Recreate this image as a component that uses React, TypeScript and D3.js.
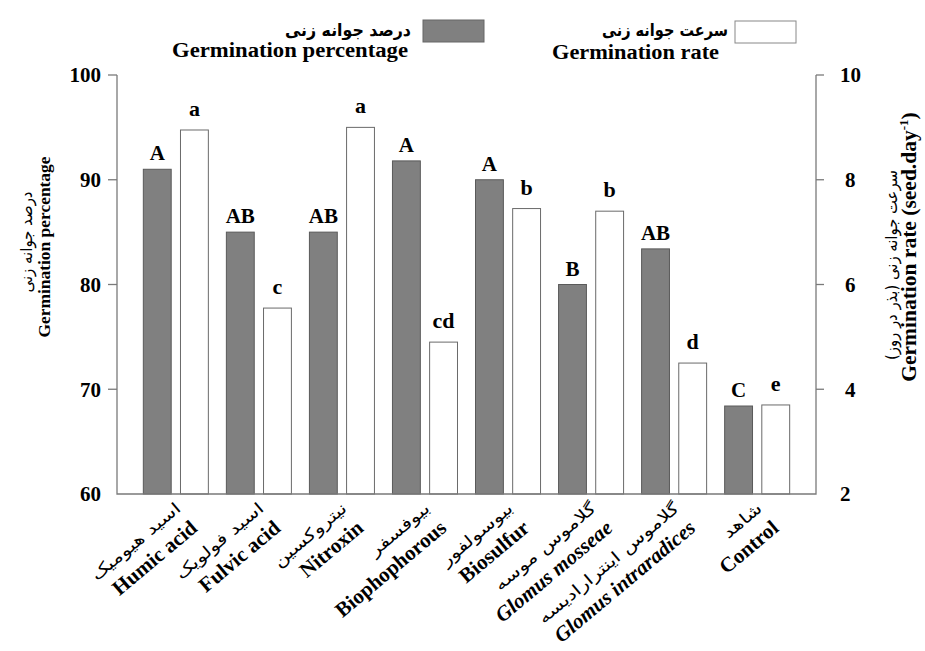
import * as React from 'react';
import { scaleLinear, scaleBand } from 'd3';

const categoriesFa = [
  'اسید هیومیک', 'اسید فولویک', 'نیتروکسین', 'بیوفسفر',
  'بیوسولفور', 'گلاموس موسه', 'گلاموس اینترارادیسه', 'شاهد',
];
const categoriesEn = [
  'Humic acid', 'Fulvic acid', 'Nitroxin', 'Biophophorous',
  'Biosulfur', 'Glomus mosseae', 'Glomus intraradices', 'Control',
];
const italicCats = ['Glomus mosseae', 'Glomus intraradices'];

const germPercent = [91, 85, 85, 91.8, 90, 80, 83.4, 68.4];
const germRate = [8.95, 5.55, 9.0, 4.9, 7.45, 7.4, 4.5, 3.7];
const percentLetters = ['A', 'AB', 'AB', 'A', 'A', 'B', 'AB', 'C'];
const rateLetters = ['a', 'c', 'a', 'cd', 'b', 'b', 'd', 'e'];

const percentTicks = [100, 90, 80, 70, 60];
const rateTicks = [10, 8, 6, 4, 2];

const W = 925, H = 651;
const left = 117, right = 816, top = 75, bottom = 494;
const SERIF = '"Liberation Serif", "Times New Roman", serif';
const FA = '"DejaVu Sans", sans-serif';
const AXIS = '#7a7a7a';
const GRAY = '#808080';

export default function App() {
  const x = scaleBand<number>()
    .domain(categoriesEn.map((_, i) => i))
    .range([left, right])
    .paddingInner(0.217)
    .paddingOuter(0.317);
  const sub = scaleBand<string>().domain(['pct', 'rate']).range([0, x.bandwidth()]).paddingInner(0.25);
  const yPct = scaleLinear().domain([60, 100]).range([bottom, top]);
  const yRate = scaleLinear().domain([2, 10]).range([bottom, top]);

  return (
    <svg width={W} height={H} style={{ position: 'absolute', left: 0, top: 0, background: '#fff' }}>
      {/* legend */}
      <rect x={423} y={20} width={61} height={22} fill={GRAY} stroke="#666" strokeWidth={1} />
      <text x={411} y={36} textAnchor="end" fontFamily={FA} fontWeight="bold" fontSize={17}
        textLength={126} lengthAdjust="spacingAndGlyphs">درصد جوانه زنی</text>
      <text x={408} y={57} textAnchor="end" fontFamily={SERIF} fontWeight="bold" fontSize={20}
        textLength={236} lengthAdjust="spacingAndGlyphs">Germination percentage</text>
      <rect x={735} y={21} width={61} height={22} fill="#fff" stroke="#888" strokeWidth={1} />
      <text x={728} y={36} textAnchor="end" fontFamily={FA} fontWeight="bold" fontSize={17}
        textLength={126} lengthAdjust="spacingAndGlyphs">سرعت جوانه زنی</text>
      <text x={719} y={59} textAnchor="end" fontFamily={SERIF} fontWeight="bold" fontSize={20}
        textLength={167} lengthAdjust="spacingAndGlyphs">Germination rate</text>

      {/* bars */}
      {categoriesEn.map((c, i) => {
        const x0 = x(i)!;
        const xp = x0 + sub('pct')!;
        const xr = x0 + sub('rate')!;
        const bw = sub.bandwidth();
        return (
          <g key={c}>
            <rect x={xp} y={yPct(germPercent[i])} width={bw} height={bottom - yPct(germPercent[i])}
              fill={GRAY} stroke="#5a5a5a" strokeWidth={1} />
            <rect x={xr} y={yRate(germRate[i])} width={bw} height={bottom - yRate(germRate[i])}
              fill="#fff" stroke="#6a6a6a" strokeWidth={1} />
            <text x={xp + bw / 2} y={yPct(germPercent[i]) - 9} textAnchor="middle"
              fontFamily={SERIF} fontWeight="bold" fontSize={21}>{percentLetters[i]}</text>
            <text x={xr + bw / 2} y={yRate(germRate[i]) - 14} textAnchor="middle"
              fontFamily={SERIF} fontWeight="bold" fontSize={22}>{rateLetters[i]}</text>
          </g>
        );
      })}

      {/* axes */}
      <path d={`M${left},${top}V${bottom}H${right}V${top}`} fill="none" stroke={AXIS} strokeWidth={1.3} />
      {percentTicks.map(t => (
        <g key={'l' + t}>
          {t !== 60 && <line x1={left - 9} x2={left} y1={yPct(t)} y2={yPct(t)} stroke={AXIS} strokeWidth={1.3} />}
          <text x={101} y={yPct(t)} dy="0.35em" textAnchor="end" fontFamily={SERIF}
            fontWeight="bold" fontSize={21}>{t}</text>
        </g>
      ))}
      {rateTicks.map(t => (
        <g key={'r' + t}>
          {t !== 2 && <line x1={right} x2={right + 8} y1={yRate(t)} y2={yRate(t)} stroke={AXIS} strokeWidth={1.3} />}
          <text x={t === 10 || t === 2 ? 840 : 845} y={yRate(t)} dy="0.35em" textAnchor="start"
            fontFamily={SERIF} fontWeight="bold" fontSize={21}>{t}</text>
        </g>
      ))}

      {/* axis titles */}
      <g transform="translate(32,242) rotate(-90)">
        <text textAnchor="middle" fontFamily={FA} fontSize={16}
          textLength={101} lengthAdjust="spacingAndGlyphs">درصد جوانه زنی</text>
      </g>
      <g transform="translate(50,247) rotate(-90)">
        <text textAnchor="middle" fontFamily={SERIF} fontWeight="bold" fontSize={17}
          textLength={181} lengthAdjust="spacingAndGlyphs">Germination percentage</text>
      </g>
      <g transform="translate(897,265) rotate(-90)">
        <text textAnchor="middle" fontFamily={FA} fontSize={16}
          textLength={190} lengthAdjust="spacingAndGlyphs">سرعت جوانه زنی (بذر در روز)</text>
      </g>
      <g transform="translate(916,247) rotate(-90)">
        <text textAnchor="middle" fontFamily={SERIF} fontWeight="bold" fontSize={21.5}>
          Germination rate (seed.day<tspan fontSize={13} dy={-8}>-1</tspan><tspan dy={8}>)</tspan>
        </text>
      </g>

      {/* category labels */}
      {categoriesEn.map((c, i) => {
        const cx = x(i)! + x.bandwidth() / 2;
        return (
          <g key={'lab' + c} transform={`translate(${cx + 6},${bottom + 16}) rotate(-40)`}>
            <g transform="scale(1.3,1)">
              <text x={0} y={0} textAnchor="end" fontFamily={FA} fontSize={16}>{categoriesFa[i]}</text>
            </g>
            <text x={0} y={26} textAnchor="end" fontFamily={SERIF} fontWeight="bold" fontSize={21}
              fontStyle={italicCats.includes(c) ? 'italic' : 'normal'}>{c}</text>
          </g>
        );
      })}
    </svg>
  );
}
